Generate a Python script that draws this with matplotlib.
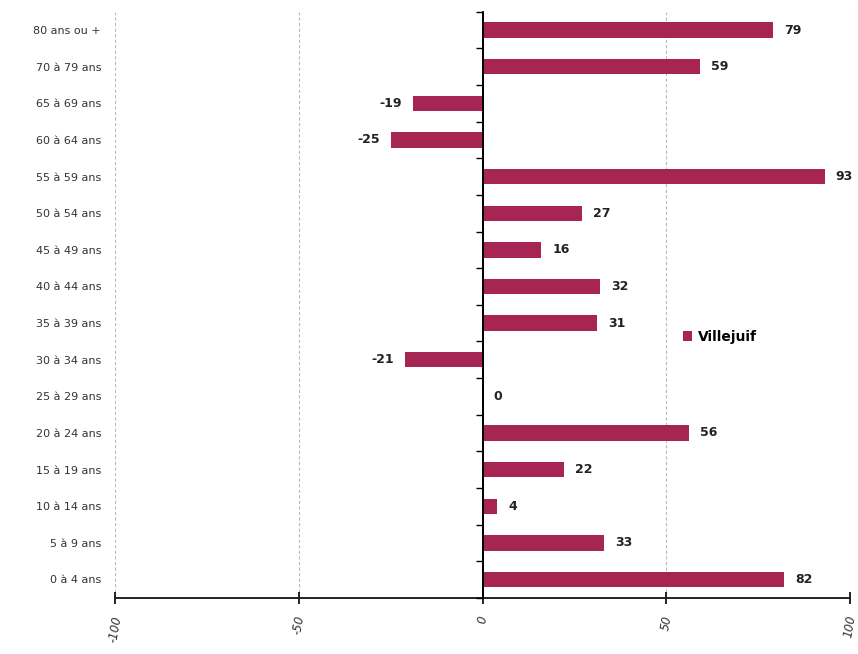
import matplotlib.pyplot as plt
from matplotlib.patches import Patch

categories = ['0 à 4 ans', '5 à 9 ans', '10 à 14 ans', '15 à 19 ans', '20 à 24 ans',
              '25 à 29 ans', '30 à 34 ans', '35 à 39 ans', '40 à 44 ans', '45 à 49 ans',
              '50 à 54 ans', '55 à 59 ans', '60 à 64 ans', '65 à 69 ans', '70 à 79 ans',
              '80 ans ou +']
values = [82, 33, 4, 22, 56, 0, -21, 31, 32, 16, 27, 93, -25, -19, 59, 79]
xticks = [-100, -50, 0, 50, 100]
series_name = 'Villejuif'
bar_color = '#A62552'

fig = plt.figure(figsize=(8.58, 6.54), dpi=100)
ax = fig.add_axes([0.134, 0.086, 0.857, 0.896])

pos = list(range(len(categories)))
ax.barh(pos, values, height=0.42, color=bar_color, zorder=3)

ax.set_xlim(-100, 100)
ax.set_ylim(-0.5, len(categories) - 0.5)
ax.set_yticks(pos)
ax.set_yticklabels(categories, fontsize=8, color='#333333')
ax.tick_params(axis='y', length=0, pad=10)

ax.set_xticks(xticks)
ax.set_xticklabels([str(t) for t in xticks], rotation=80, fontsize=8.5,
                   style='italic', color='#333333')
ax.tick_params(axis='x', direction='inout', length=8, width=1.2, pad=8)

for s in ['left', 'right', 'top']:
    ax.spines[s].set_visible(False)
ax.spines['bottom'].set_linewidth(1.4)
ax.spines['bottom'].set_color('#222222')

ax.xaxis.grid(True, color='#bbbbbb', linestyle=(0, (3, 2)), linewidth=0.8, zorder=0)
ax.set_axisbelow(True)

# zero axis with ticks between categories
ax.axvline(0, color='black', linewidth=1.3, zorder=4)
ax2 = ax.twinx()
ax2.set_ylim(ax.get_ylim())
ax2.spines['right'].set_position(('data', 0))
for s in ['left', 'top', 'bottom']:
    ax2.spines[s].set_visible(False)
ax2.spines['right'].set_linewidth(1.3)
ax2.set_yticks([p - 0.5 for p in pos] + [len(categories) - 0.5])
ax2.set_yticklabels([])
ax2.tick_params(axis='y', direction='in', length=5, width=1)

for p, v in zip(pos, values):
    if v < 0:
        ax.annotate(str(v), (v, p), xytext=(-8, 0), textcoords='offset points',
                    ha='right', va='center', fontsize=9, fontweight='bold',
                    color='#222222', zorder=5)
    else:
        ax.annotate(str(v), (v, p), xytext=(8, 0), textcoords='offset points',
                    ha='left', va='center', fontsize=9, fontweight='bold',
                    color='#222222', zorder=5)

leg = ax2.legend(handles=[Patch(facecolor=bar_color, label=series_name)],
                 loc='center left', bbox_to_anchor=(0.755, 0.445), frameon=True,
                 handlelength=0.7, handleheight=0.7, handletextpad=0.4,
                 prop={'weight': 'bold', 'size': 10})
leg.get_frame().set_edgecolor('none')
leg.get_frame().set_facecolor('white')
leg.get_frame().set_alpha(1)
leg.set_zorder(10)

fig.savefig('out.png', dpi=100)
